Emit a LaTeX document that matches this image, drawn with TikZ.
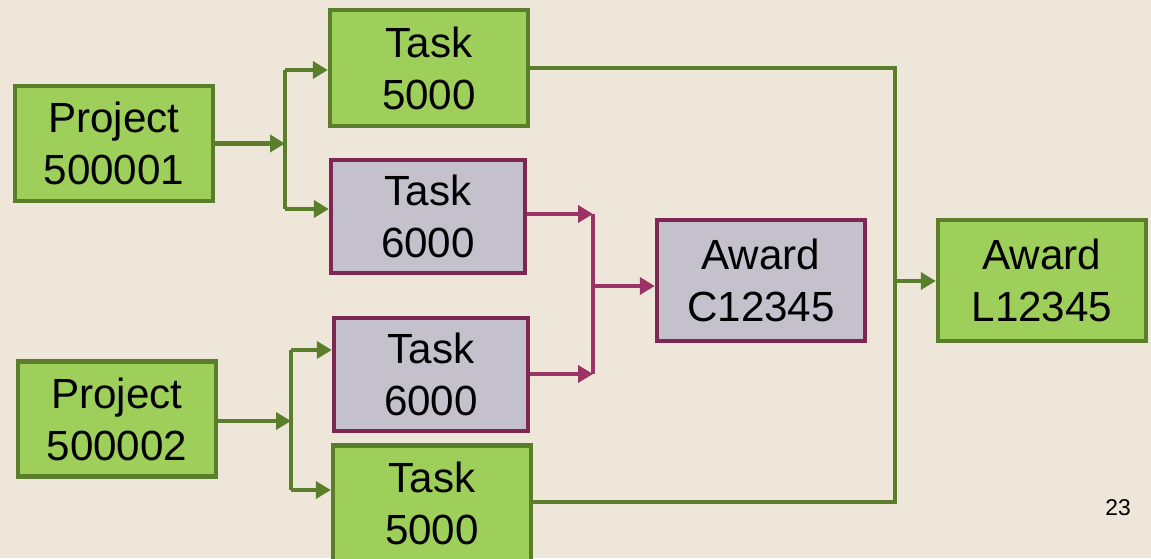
\documentclass[tikz,border=0pt]{standalone}
\usepackage{fontspec}
\setmainfont{Liberation Sans}
\usepackage{tikz}
\usetikzlibrary{shapes, arrows.meta, positioning}
\definecolor{bgcream}{HTML}{EEE7D9}
\definecolor{taskgreen}{HTML}{9DCF5A}
\definecolor{edgegreen}{HTML}{5A7E2A}
\definecolor{taskgrey}{HTML}{C4C0CC}
\definecolor{edgeplum}{HTML}{7D2852}
\definecolor{lineplum}{HTML}{9A3366}

\begin{document}
\begin{tikzpicture}[font=\fontsize{24}{29.5}\selectfont]
  \tikzstyle{greenbox} = [rectangle, draw=edgegreen, fill=taskgreen, line width=2.5pt, text centered, align=center, inner sep=0pt, minimum width=3.96cm, minimum height=2.3cm]
  \tikzstyle{greybox} = [rectangle, draw=edgeplum, fill=taskgrey, line width=2.5pt, text centered, align=center, inner sep=0pt, minimum width=3.88cm, minimum height=2.26cm]
  \tikzstyle{awardbox} = [minimum width=4.16cm, minimum height=2.42cm]
  \tikzstyle{gline} = [draw=edgegreen, line width=2.3pt]
  \tikzstyle{pline} = [draw=lineplum, line width=2.3pt]
  \tikzstyle{tip} = [-{Triangle[length=0.3cm, width=0.34cm]}]
  % background and page size
  \fill[bgcream] (0,0) rectangle (23.02,-11.16);
  \useasboundingbox (0,0) rectangle (23.02,-11.16);
  % projects
  \node [greenbox] (proj1) at (2.28,-2.87) {Project\\500001};
  \node [greenbox] (proj2) at (2.34,-8.38) {Project\\500002};
  % tasks
  \node [greenbox, minimum height=2.32cm] (task1) at (8.58,-1.36) {Task\\5000};
  \node [greybox] (task2) at (8.56,-4.33) {Task\\6000};
  \node [greybox] (task3) at (8.62,-7.49) {Task\\6000};
  \node [greenbox, minimum height=2.32cm] (task4) at (8.64,-10.07) {Task\\5000};
  % awards
  \node [greybox, awardbox] (awardC) at (15.22,-5.61) {Award\\C12345};
  \node [greenbox, awardbox] (awardL) at (20.84,-5.61) {Award\\L12345};
  % junctions
  \coordinate (j1) at (5.70,-2.87);
  \coordinate (j1a) at (5.70,-1.40);
  \coordinate (j1b) at (5.70,-4.18);
  \coordinate (j2) at (5.82,-8.42);
  \coordinate (j2a) at (5.82,-7.00);
  \coordinate (j2b) at (5.82,-9.80);
  \coordinate (j3a) at (11.86,-4.28);
  \coordinate (j3b) at (11.86,-7.48);
  \coordinate (j3) at (11.86,-5.72);
  \coordinate (j4a) at (17.90,-1.36);
  \coordinate (j4b) at (17.90,-10.04);
  \coordinate (j4) at (17.90,-5.62);
  % project 500001 to tasks
  \path [gline, tip] (proj1.east |- j1) -- (j1);
  \path [gline] (j1a) -- (j1b);
  \path [gline, tip] (j1a) -- (j1a -| task1.west);
  \path [gline, tip] (j1b) -- (j1b -| task2.west);
  % project 500002 to tasks
  \path [gline, tip] (proj2.east |- j2) -- (j2);
  \path [gline] (j2a) -- (j2b);
  \path [gline, tip] (j2a) -- (j2a -| task3.west);
  \path [gline, tip] (j2b) -- (j2b -| task4.west);
  % tasks 6000 to award C12345
  \path [pline, tip] (task2.east |- j3a) -- (j3a);
  \path [pline, tip] (task3.east |- j3b) -- (j3b);
  \path [pline] (j3a) -- (j3b);
  \path [pline, tip] (j3) -- (j3 -| awardC.west);
  % tasks 5000 to award L12345
  \path [gline] (task1.east |- j4a) -- (j4a) -- (j4b) -- (task4.east |- j4b);
  \path [gline, tip] (j4) -- (j4 -| awardL.west);
  % page number
  \node [font=\fontsize{13}{15}\selectfont] (pagenum) at (22.36,-10.16) {23};
\end{tikzpicture}
\end{document}
